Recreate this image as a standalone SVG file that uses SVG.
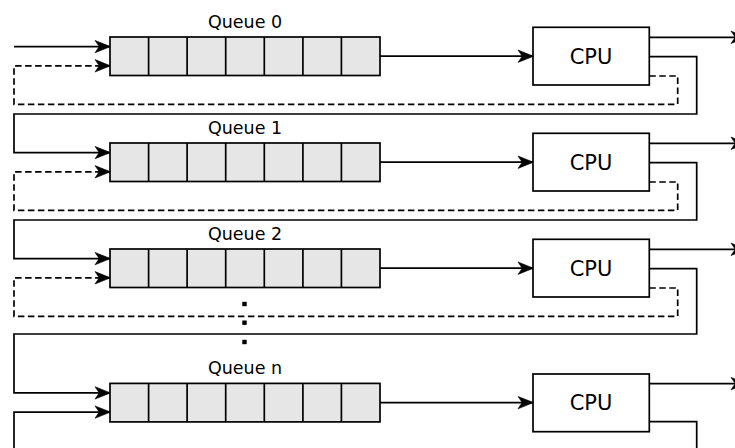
<svg xmlns="http://www.w3.org/2000/svg" width="735" height="448" viewBox="0 0 735 448">
<style>
.q{fill:#e6e6e6;stroke:#000;stroke-width:1.7}
.cell{stroke:#000;stroke-width:1.7}
.cpu{fill:#fff;stroke:#000;stroke-width:1.7}
.lq{font-family:"DejaVu Sans",sans-serif;font-size:17.5px;text-anchor:middle;fill:#000}
.lc{font-family:"DejaVu Sans",sans-serif;font-size:21px;text-anchor:middle;fill:#000}
.c{fill:none;stroke:#000;stroke-width:1.7}
.a{marker-end:url(#ah)}
.d{stroke-dasharray:6.5,3.5}
</style>
<defs>
<marker id="ah" markerWidth="20" markerHeight="16" refX="15" refY="8" orient="auto" markerUnits="userSpaceOnUse" overflow="visible">
<path d="M15.5,8 L0,1.8 L4.2,8 L0,14.2 Z" fill="#000" stroke="#000" stroke-width="0.6" stroke-linejoin="miter"/>
</marker>
<g id="cells">
<rect class="q" x="110" y="0" width="270" height="38.5"/>
<path class="cell" d="M148.6,0V38.5M187.1,0V38.5M225.7,0V38.5M264.3,0V38.5M302.9,0V38.5M341.4,0V38.5"/>
</g>
</defs>

<g id="connectors">
<path class="c a" d="M380,56.2H533"/>
<path class="c a" d="M380,162.2H533"/>
<path class="c a" d="M380,268.2H533"/>
<path class="c a" d="M380,402.6H533"/>
<path class="c a" d="M649.3,37.3H746"/>
<path class="c a" d="M649.3,143.3H746"/>
<path class="c a" d="M649.3,249.3H746"/>
<path class="c a" d="M649.3,383.6H746"/>
<path class="c a" d="M14,46.6H110"/>
<path class="c d a" d="M649.3,76H677.7V104.3H14V65.8H110"/>
<path class="c a" d="M649.3,56.7H696.7V114H14V152.6H110"/>
<path class="c d a" d="M649.3,182H677.7V210.3H14V171.8H110"/>
<path class="c a" d="M649.3,162.7H696.7V220H14V258.6H110"/>
<path class="c d a" d="M649.3,288H677.7V316.3H14V277.8H110"/>
<path class="c a" d="M649.3,268.7H696.7V334H14V392.9H110"/>
<path class="c a" d="M14,448V412.1H110"/>
<path class="c" d="M649.3,421.7H696.7V448"/>
</g>

<g id="queue0">
<use href="#cells" y="37"/>
<text class="lq" x="245" y="27.6">Queue 0</text>
</g>
<g id="queue1">
<use href="#cells" y="143"/>
<text class="lq" x="245" y="133.6">Queue 1</text>
</g>
<g id="queue2">
<use href="#cells" y="249"/>
<text class="lq" x="245" y="239.6">Queue 2</text>
</g>
<g id="queuen">
<use href="#cells" y="383.4"/>
<text class="lq" x="245" y="374">Queue n</text>
</g>

<g id="cpu0">
<rect class="cpu" x="533" y="27.3" width="116.3" height="57.7"/>
<text class="lc" x="591" y="63.7">CPU</text>
</g>
<g id="cpu1">
<rect class="cpu" x="533" y="133.3" width="116.3" height="57.7"/>
<text class="lc" x="591" y="169.7">CPU</text>
</g>
<g id="cpu2">
<rect class="cpu" x="533" y="239.3" width="116.3" height="57.7"/>
<text class="lc" x="591" y="275.7">CPU</text>
</g>
<g id="cpun">
<rect class="cpu" x="533" y="374" width="116.3" height="57.7"/>
<text class="lc" x="591" y="410.4">CPU</text>
</g>

<g id="ellipsis" fill="#000">
<rect x="242.3" y="301.8" width="4.4" height="4.4"/>
<rect x="242.3" y="320.5" width="4.4" height="4.4"/>
<rect x="242.3" y="339.8" width="4.4" height="4.4"/>
</g>
</svg>
